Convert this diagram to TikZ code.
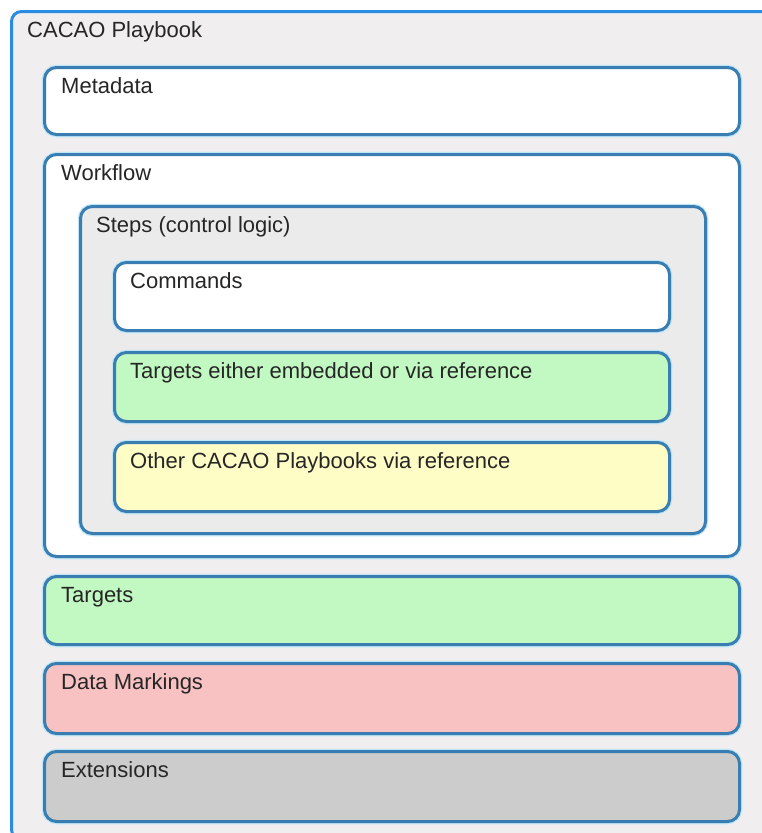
\documentclass[tikz,border=0pt]{standalone}
\usepackage{fontspec}
\setmainfont{Liberation Sans}
\definecolor{outerblue}{HTML}{2A8CE0}
\definecolor{edgeblue}{HTML}{3A7DB0}
\definecolor{halo}{HTML}{BEE6F8}
\definecolor{panelgray}{HTML}{F0EEEE}
\definecolor{stepgray}{HTML}{ECEBEC}
\definecolor{boxgreen}{HTML}{C2F8C2}
\definecolor{boxyellow}{HTML}{FFFDC6}
\definecolor{boxpink}{HTML}{F8C2C2}
\definecolor{boxgray}{HTML}{CCCCCC}
\tikzset{
  x=1pt, y=-1pt,
  frame/.style={rectangle, anchor=north west, inner sep=0pt, rounded corners=12pt,
    draw=edgeblue, line width=3pt,
    preaction={draw=halo, line width=5.5pt}},
  caption/.style={anchor=base west, inner sep=0pt, font=\fontsize{22}{26}\selectfont, text=black!85}
}
\begin{document}
\begin{tikzpicture}
\useasboundingbox (0,0) rectangle (762,833);
\begin{scope}
\clip (0,0) rectangle (762,833);
% outer playbook panel
\node[rectangle, anchor=north west, inner sep=0pt, rounded corners=10pt,
      fill=panelgray, draw=outerblue, line width=3pt,
      minimum width=770pt, minimum height=828pt] (book) at (10,10) {};
\end{scope}
\node[caption] (booktxt) at ([xshift=17pt,yshift=-27pt]book.north west) {CACAO Playbook};

% top-level sections
\node[frame, fill=white, minimum width=695pt, minimum height=67pt] (meta) at (43,66) {};
\node[caption] (metatxt) at ([xshift=18pt,yshift=-27pt]meta.north west) {Metadata};

\node[frame, fill=white, minimum width=695pt, minimum height=402pt] (flow) at (43,153) {};
\node[caption] (flowtxt) at ([xshift=18pt,yshift=-27pt]flow.north west) {Workflow};

\node[frame, fill=stepgray, minimum width=625pt, minimum height=327pt] (steps) at (79,205) {};
\node[caption] (stepstxt) at ([xshift=17pt,yshift=-27pt]steps.north west) {Steps (control logic)};

\node[frame, fill=white, minimum width=555pt, minimum height=68pt] (cmd) at (113,261) {};
\node[caption] (cmdtxt) at ([xshift=17pt,yshift=-27pt]cmd.north west) {Commands};

\node[frame, fill=boxgreen, minimum width=555pt, minimum height=69pt] (embtgt) at (113,351) {};
\node[caption] (embtgttxt) at ([xshift=17pt,yshift=-27pt]embtgt.north west) {Targets either embedded or via reference};

\node[frame, fill=boxyellow, minimum width=555pt, minimum height=69pt] (other) at (113,441) {};
\node[caption] (othertxt) at ([xshift=17pt,yshift=-27pt]other.north west) {Other CACAO Playbooks via reference};

\node[frame, fill=boxgreen, minimum width=695pt, minimum height=68pt] (tgt) at (43,575) {};
\node[caption] (tgttxt) at ([xshift=18pt,yshift=-27pt]tgt.north west) {Targets};

\node[frame, fill=boxpink, minimum width=695pt, minimum height=70pt] (mark) at (43,662) {};
\node[caption] (marktxt) at ([xshift=18pt,yshift=-27pt]mark.north west) {Data Markings};

\node[frame, fill=boxgray, minimum width=695pt, minimum height=70pt] (ext) at (43,750) {};
\node[caption] (exttxt) at ([xshift=18pt,yshift=-27pt]ext.north west) {Extensions};
\end{tikzpicture}
\end{document}
